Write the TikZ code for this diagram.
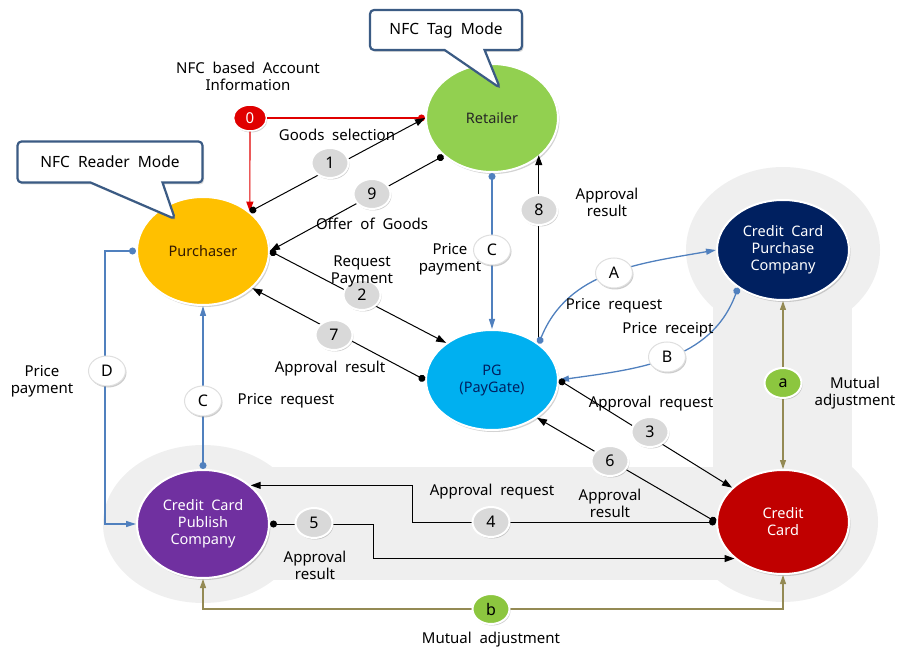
\documentclass[tikz,border=0pt]{standalone}
\usepackage{fontspec}
\setmainfont[WordSpace=2.0]{Noto Sans}
\usetikzlibrary{arrows.meta,shapes.geometric,shapes.callouts,shadows,calc}

\definecolor{bandgray}{HTML}{EFEFEF}
\definecolor{flowblue}{HTML}{5080BE}
\definecolor{adjolive}{HTML}{948A54}
\definecolor{boxblue}{HTML}{3B5B84}
\definecolor{numgray}{HTML}{D9D9D9}
\definecolor{adjgreen}{HTML}{8CC63F}
\definecolor{zerored}{HTML}{E00000}
\definecolor{retgreen}{HTML}{92D050}
\definecolor{purgold}{HTML}{FFC000}
\definecolor{pgcyan}{HTML}{00B0F0}
\definecolor{ccpnavy}{HTML}{002060}
\definecolor{ccred}{HTML}{C00000}
\definecolor{pubpurple}{HTML}{7030A0}

\tikzset{
  party/.style={ellipse, minimum width=132pt, minimum height=108pt, inner sep=0pt,
    draw=white, line width=2pt, align=center, font=\fontsize{14.5}{17}\selectfont,
    drop shadow={shadow xshift=1.5pt, shadow yshift=-2pt, opacity=0.35}},
  lbl/.style={ellipse, minimum width=37pt, minimum height=30pt, inner sep=0pt,
    draw=white, line width=2pt, font=\fontsize{16}{16}\selectfont,
    drop shadow={shadow xshift=1pt, shadow yshift=-1.5pt, opacity=0.4}},
  numlbl/.style={lbl, fill=numgray},
  letlbl/.style={lbl, fill=white, draw=gray!25, line width=1pt},
  adjlbl/.style={lbl, fill=adjgreen},
  txt/.style={align=center, inner sep=0pt, font=\fontsize{15}{17}\selectfont},
  modebox/.style={rectangle callout, draw=boxblue, line width=2.2pt, fill=white,
    rounded corners=4pt, inner sep=0pt, font=\fontsize{15.5}{17}\selectfont,
    drop shadow={shadow xshift=1.5pt, shadow yshift=-2pt, opacity=0.3}},
  flow/.style={draw=black, line width=1pt,
    {Circle[length=7pt]}-{Triangle[length=10pt,width=7pt]}},
  bflow/.style={draw=flowblue, line width=1.3pt,
    {Circle[length=7pt]}-{Triangle[length=10pt,width=6pt]}},
  aflow/.style={draw=adjolive, line width=1.1pt,
    {Triangle[length=9pt,width=6pt]}-{Triangle[length=9pt,width=6pt]}},
  rflow/.style={draw=zerored, line width=1.1pt},
}

\begin{document}
\begin{tikzpicture}[x=1pt,y=-1pt]
\useasboundingbox (0,0) rectangle (897,652);

% light gray band joining the card companies
\fill[bandgray] (203,467) rectangle (783,580);
\fill[bandgray] (713,250) rectangle (852,522);
\fill[bandgray] (203,524) ellipse [x radius=100, y radius=79];
\fill[bandgray] (783,522) ellipse [x radius=95, y radius=80];
\fill[bandgray] (783,250) ellipse [x radius=97, y radius=83];

% participants
\node[party, fill=retgreen, text=black!85] (ret) at (492,118) {Retailer};
\node[party, fill=purgold, text=black!80!orange] (pur) at (203,251) {Purchaser};
\node[party, fill=pgcyan, text=ccpnavy, minimum height=100pt] (pg) at (492,380) {PG\\(PayGate)};
\node[party, fill=ccpnavy, text=white, minimum height=100pt] (ccpc) at (783,250) {Credit Card\\Purchase\\Company};
\node[party, fill=ccred, text=white, minimum height=104pt] (cc) at (783,522) {Credit\\Card};
\node[party, fill=pubpurple, text=white] (ccpub) at (203,524) {Credit Card\\Publish\\Company};

% mode callouts
\node[modebox, minimum width=152pt, minimum height=40pt, callout pointer width=40pt,
  callout absolute pointer={(500,88)}] (tagmode) at (446,30) {NFC Tag Mode};
\node[modebox, minimum width=185pt, minimum height=41pt, callout pointer width=72pt,
  callout absolute pointer={(175,219)}] (readmode) at (110,162) {NFC Reader Mode};

% account information step
\node[ellipse, fill=zerored, draw=white, line width=1.5pt, minimum width=33pt,
  minimum height=26pt, inner sep=0pt, text=white, font=\fontsize{15}{15}\selectfont,
  drop shadow={shadow xshift=1pt, shadow yshift=-1.5pt, opacity=0.35}] (zero) at (250,118) {0};
\coordinate (bD) at (105,0);
\coordinate (b4) at (412,0);
\coordinate (b5) at (373,0);
\coordinate (bb) at (491,609);

\draw[rflow, -{Circle[length=7pt]}] (zero.east) -- (ret.west);
\draw[rflow, -{Triangle[length=10pt,width=7pt]}] (zero.south) -- (pur.40);

% purchaser / retailer / PG
\draw[flow] (pur.40) -- (ret.west);
\draw[flow] (ret.-142) -- (pur.east);
\draw[flow] (pur.east) -- (pg.141);
\draw[flow] (pg.west) -- (pur.-37);
\draw[draw=black, line width=1pt, -{Triangle[length=10pt,width=7pt]}] (pg.38) -- (pg.38 |- ret.-37);
\draw[bflow] (ret.south) -- (pg.north);

% PG / card companies
\draw[bflow] (pg.38) to[out=68, in=190] (ccpc.west);
\draw[bflow] (ccpc.220) to[out=250, in=8] (pg.east);
\draw[flow] (pg.east) -- (cc.146);
\draw[flow] (cc.west) -- (pg.-40);
\draw[flow] (cc.west) -| (b4 |- ccpub.39) -- (ccpub.39);
\draw[flow] (ccpub.east) -| (b5 |- cc.217) -- (cc.217);

% purchaser / publishing company
\draw[bflow] (pur.west) -- (bD |- pur.west) |- (ccpub.west);
\draw[bflow] (ccpub.north) -- (pur.south);

% mutual adjustment
\draw[aflow] (ccpc.south) -- (cc.north);
\draw[aflow] (ccpub.south) |- (bb) -| (cc.south);

% step markers
\node[numlbl] (n1) at (330,163) {1};
\node[numlbl] (n9) at (372,194) {9};
\node[numlbl] (n2) at (362,295) {2};
\node[numlbl] (n7) at (334,335) {7};
\node[numlbl] (n8) at (539,210) {8};
\node[numlbl] (n3) at (650,432) {3};
\node[numlbl] (n6) at (610,461) {6};
\node[numlbl] (n4) at (491,522) {4};
\node[numlbl] (n5) at (314,523) {5};
\node[letlbl] (lC1) at (492,250) {C};
\node[letlbl] (lA) at (614,273) {A};
\node[letlbl] (lB) at (667,357) {B};
\node[letlbl] (lD) at (107,371) {D};
\node[letlbl] (lC2) at (203,401) {C};
\node[adjlbl] (la) at (783,383) {a};
\node[adjlbl] (lb) at (491,609) {b};

% flow descriptions
\node[txt] (t0) at (248,76) {NFC based Account\\Information};
\node[txt] (t1) at (337,135) {Goods selection};
\node[txt] (t9) at (372,224) {Offer of Goods};
\node[txt] (t2) at (362,271) {Request\\Payment};
\node[txt] (t7) at (330,369) {Approval result};
\node[txt] (tC1) at (450,259) {Price\\payment};
\node[txt] (t8) at (607,202) {Approval\\result};
\node[txt] (tA) at (614,306) {Price request};
\node[txt] (tB) at (668,330) {Price receipt};
\node[txt] (t3) at (651,404) {Approval request};
\node[txt] (t6) at (610,503) {Approval\\result};
\node[txt] (t4) at (492,492) {Approval request};
\node[txt] (t5) at (315,565) {Approval\\result};
\node[txt] (tD) at (42,381) {Price\\payment};
\node[txt] (tC2) at (286,401) {Price request};
\node[txt] (ta) at (855,393) {Mutual\\adjustment};
\node[txt] (tb) at (491,640) {Mutual adjustment};
\end{tikzpicture}
\end{document}
